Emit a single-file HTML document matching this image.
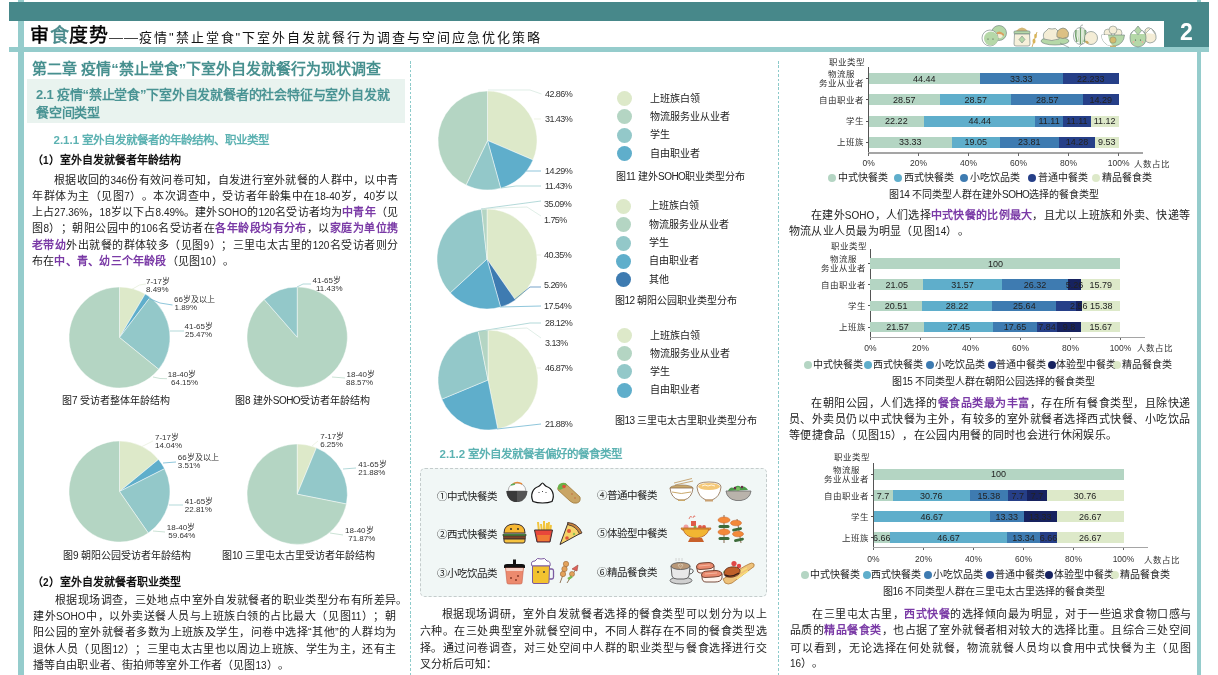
<!DOCTYPE html>
<html lang="zh-CN"><head><meta charset="utf-8">
<style>
html,body{margin:0;padding:0;}
body{will-change:transform;width:1218px;height:675px;position:relative;overflow:hidden;background:#fff;font-family:"Liberation Sans",sans-serif;text-spacing-trim:space-all;}
.t{position:absolute;}
.s{position:absolute;overflow:visible;}
.b{position:absolute;}
b.hl{color:#7a3aa6;font-weight:bold;}
.n{font-size:0.91em;}
.n2{letter-spacing:-0.55px;}
</style></head><body>
<div class="b" style="left:18px;top:0;width:5.5px;height:675px;background:#95cccc"></div>
<div class="b" style="left:1196.5px;top:0;width:4.5px;height:675px;background:#95cccc"></div>
<div class="b" style="left:9px;top:2px;width:1200px;height:19px;background:#47888a"></div>
<div class="b" style="left:1164px;top:2px;width:45px;height:45px;background:#47888a"></div>
<div class="b" style="left:9px;top:47px;width:1200px;height:4.5px;background:#95cccc"></div>
<div class="t" style="left:1164px;top:21px;width:45px;text-align:center;font-size:23px;line-height:22px;font-weight:bold;color:#fff">2</div>
<div class="t" style="left:30px;top:23px;font-size:19px;line-height:26px;white-space:nowrap;color:#000;letter-spacing:0.6px;-webkit-text-stroke:0.45px">审<span style="color:#47888a">食</span>度势</div>
<div class="b" style="left:108.5px;top:38px;width:14px;height:1.3px;background:#444"></div><div class="b" style="left:123.5px;top:38px;width:14px;height:1.3px;background:#444"></div>
<div class="t" style="left:139px;top:26px;font-size:13px;line-height:24px;white-space:nowrap;color:#111;letter-spacing:2px">疫情"禁止堂食"下室外自发就餐行为调查与空间应急优化策略</div>
<div class="b" style="left:410px;top:61px;width:1px;height:614px;background:repeating-linear-gradient(to bottom,#8ccaca 0 2.6px,transparent 2.6px 4.4px)"></div>
<div class="b" style="left:778px;top:61px;width:1px;height:614px;background:repeating-linear-gradient(to bottom,#8ccaca 0 2.6px,transparent 2.6px 4.4px)"></div>
<div class="t" style="left:32px;top:58.50px;font-size:15px;line-height:20px;color:#47908f;font-weight:bold;white-space:nowrap;">第二章 疫情“禁止堂食”下室外自发就餐行为现状调查</div>
<div class="b" style="left:27px;top:79px;width:378px;height:43.5px;background:#e9f3ef"></div>
<div class="t" style="left:36px;top:85.50px;font-size:13px;line-height:18px;color:#4a9494;font-weight:bold;white-space:nowrap;letter-spacing:-0.2px;">2.1 疫情“禁止堂食”下室外自发就餐者的社会特征与室外自发就</div>
<div class="t" style="left:36px;top:103.50px;font-size:13px;line-height:18px;color:#4a9494;font-weight:bold;white-space:nowrap;letter-spacing:-0.2px;">餐空间类型</div>
<div class="t" style="left:53.5px;top:132.50px;font-size:11.5px;line-height:14px;color:#5cb2b2;font-weight:bold;white-space:nowrap;">2.1.1 室外自发就餐者的年龄结构、职业类型</div>
<div class="t" style="left:32px;top:152.50px;font-size:11px;line-height:14px;color:#111;font-weight:bold;white-space:nowrap;">（<span class="n">1</span>）室外自发就餐者年龄结构</div>
<div class="t" style="left:54px;top:172.45px;font-size:11px;line-height:16.5px;color:#222;width:344px;text-align:justify;text-align-last:justify;">根据收回的<span class="n">346</span>份有效问卷可知，自发进行室外就餐的人群中，以中青</div>
<div class="t" style="left:32px;top:187.75px;font-size:11px;line-height:16.5px;color:#222;width:366px;text-align:justify;text-align-last:justify;">年群体为主（见图<span class="n">7</span>）。本次调查中，受访者年龄集中在<span class="n">18-40</span>岁，<span class="n">40</span>岁以</div>
<div class="t" style="left:32px;top:203.65px;font-size:11px;line-height:16.5px;color:#222;width:366px;text-align:justify;text-align-last:justify;">上占<span class="n">27.36%</span>，<span class="n">18</span>岁以下占<span class="n">8.49%</span>。建外<span class="n">SOHO</span>的<span class="n">120</span>名受访者均为<b class="hl">中青年</b>（见</div>
<div class="t" style="left:32px;top:220.35px;font-size:11px;line-height:16.5px;color:#222;width:366px;text-align:justify;text-align-last:justify;">图<span class="n">8</span>）；朝阳公园中的<span class="n">106</span>名受访者在<b class="hl">各年龄段均有分布</b>，以<b class="hl">家庭为单位携</b></div>
<div class="t" style="left:32px;top:236.55px;font-size:11px;line-height:16.5px;color:#222;width:366px;text-align:justify;text-align-last:justify;"><b class="hl">老带幼</b>外出就餐的群体较多（见图<span class="n">9</span>）；三里屯太古里的<span class="n">120</span>名受访者则分</div>
<div class="t" style="left:32px;top:252.75px;font-size:11px;line-height:16.5px;color:#222;white-space:nowrap;letter-spacing:0.22px;">布在<b class="hl">中、青、幼三个年龄段</b>（见图<span class="n">10</span>）。</div>
<svg class="s" style="left:67.0px;top:285.3px" width="105.0" height="105.0" viewBox="67.0 285.3 105.0 105.0"><path d="M119.5,337.8 L119.50,287.30 A50.5,50.5 0 0 1 145.18,294.32 Z" fill="#dde9c9" stroke="#fff" stroke-width="0.45" stroke-linejoin="round"/><path d="M119.5,337.8 L145.18,294.32 A50.5,50.5 0 0 1 150.15,297.66 Z" fill="#5faecb" stroke="#fff" stroke-width="0.45" stroke-linejoin="round"/><path d="M119.5,337.8 L150.15,297.66 A50.5,50.5 0 0 1 158.71,369.62 Z" fill="#93c8c9" stroke="#fff" stroke-width="0.45" stroke-linejoin="round"/><path d="M119.5,337.8 L158.71,369.62 A50.5,50.5 0 1 1 119.50,287.30 Z" fill="#b4d5c3" stroke="#fff" stroke-width="0.45" stroke-linejoin="round"/></svg>
<div class="t" style="left:146px;top:277.80px;font-size:8px;line-height:8px;color:#333;white-space:nowrap;">7-17岁</div>
<div class="t" style="left:146px;top:285.50px;font-size:8px;line-height:8px;color:#333;white-space:nowrap;">8.49%</div>
<div class="t" style="left:174px;top:295.50px;font-size:8px;line-height:8px;color:#333;white-space:nowrap;">66岁及以上</div>
<div class="t" style="left:174.5px;top:303.50px;font-size:8px;line-height:8px;color:#333;white-space:nowrap;">1.89%</div>
<div class="t" style="left:184.5px;top:323.30px;font-size:8px;line-height:8px;color:#333;white-space:nowrap;">41-65岁</div>
<div class="t" style="left:185px;top:331.30px;font-size:8px;line-height:8px;color:#333;white-space:nowrap;">25.47%</div>
<div class="t" style="left:167.8px;top:371.30px;font-size:8px;line-height:8px;color:#333;white-space:nowrap;">18-40岁</div>
<div class="t" style="left:171px;top:378.50px;font-size:8px;line-height:8px;color:#333;white-space:nowrap;">64.15%</div>
<svg class="s" style="left:129.5px;top:282px" width="20.0" height="11.300000000000011" viewBox="129.5 282 20.0 11.300000000000011"><polyline points="131.5,289.3 139,285 145.5,284" fill="none" stroke="#e3ecd6" stroke-width="0.7"/></svg>
<svg class="s" style="left:146px;top:295.5px" width="30.5" height="13.0" viewBox="146 295.5 30.5 13.0"><polyline points="148,297.5 160,302.5 172.5,304.5" fill="none" stroke="#5faecb" stroke-width="0.7"/></svg>
<svg class="s" style="left:168px;top:329.3px" width="20" height="6.0" viewBox="168 329.3 20 6.0"><polyline points="170,331.3 184,331.3" fill="none" stroke="#93c8c9" stroke-width="0.7"/></svg>
<svg class="s" style="left:151px;top:374.5px" width="20" height="7.699999999999989" viewBox="151 374.5 20 7.699999999999989"><polyline points="153,376.5 160,378 167,378.2" fill="none" stroke="#b4d5c3" stroke-width="0.7"/></svg>
<div class="t" style="left:62px;top:393.60px;font-size:10px;line-height:14px;color:#222;white-space:nowrap;">图<span class="n2">7</span> 受访者整体年龄结构</div>
<svg class="s" style="left:245.2px;top:285.2px" width="104.4" height="104.4" viewBox="245.2 285.2 104.4 104.4"><path d="M297.4,337.4 L297.40,287.20 A50.2,50.2 0 1 1 264.37,299.60 Z" fill="#b4d5c3" stroke="#fff" stroke-width="0.45" stroke-linejoin="round"/><path d="M297.4,337.4 L264.37,299.60 A50.2,50.2 0 0 1 297.40,287.20 Z" fill="#93c8c9" stroke="#fff" stroke-width="0.45" stroke-linejoin="round"/></svg>
<div class="t" style="left:312.5px;top:276.50px;font-size:8px;line-height:8px;color:#333;white-space:nowrap;">41-65岁</div>
<div class="t" style="left:316px;top:285.00px;font-size:8px;line-height:8px;color:#333;white-space:nowrap;">11.43%</div>
<div class="t" style="left:346.5px;top:371.00px;font-size:8px;line-height:8px;color:#333;white-space:nowrap;">18-40岁</div>
<div class="t" style="left:346px;top:379.30px;font-size:8px;line-height:8px;color:#333;white-space:nowrap;">88.57%</div>
<svg class="s" style="left:295px;top:282px" width="20" height="9" viewBox="295 282 20 9"><polyline points="297,287 303,284 311,284" fill="none" stroke="#93c8c9" stroke-width="0.7"/></svg>
<svg class="s" style="left:330px;top:375px" width="19" height="7" viewBox="330 375 19 7"><polyline points="332,377 345,378" fill="none" stroke="#b4d5c3" stroke-width="0.7"/></svg>
<div class="t" style="left:235px;top:393.60px;font-size:10px;line-height:14px;color:#222;white-space:nowrap;">图<span class="n2">8</span> 建外<span class="n2">SOHO</span>受访者年龄结构</div>
<svg class="s" style="left:67.0px;top:439.0px" width="105.0" height="105.0" viewBox="67.0 439.0 105.0 105.0"><path d="M119.5,491.5 L119.50,441.00 A50.5,50.5 0 0 1 158.49,459.41 Z" fill="#dde9c9" stroke="#fff" stroke-width="0.45" stroke-linejoin="round"/><path d="M119.5,491.5 L158.49,459.41 A50.5,50.5 0 0 1 164.57,468.71 Z" fill="#5faecb" stroke="#fff" stroke-width="0.45" stroke-linejoin="round"/><path d="M119.5,491.5 L164.57,468.71 A50.5,50.5 0 0 1 148.25,533.02 Z" fill="#93c8c9" stroke="#fff" stroke-width="0.45" stroke-linejoin="round"/><path d="M119.5,491.5 L148.25,533.02 A50.5,50.5 0 1 1 119.50,441.00 Z" fill="#b4d5c3" stroke="#fff" stroke-width="0.45" stroke-linejoin="round"/></svg>
<div class="t" style="left:155px;top:434.00px;font-size:8px;line-height:8px;color:#333;white-space:nowrap;">7-17岁</div>
<div class="t" style="left:155px;top:442.00px;font-size:8px;line-height:8px;color:#333;white-space:nowrap;">14.04%</div>
<div class="t" style="left:177.8px;top:454.30px;font-size:8px;line-height:8px;color:#333;white-space:nowrap;">66岁及以上</div>
<div class="t" style="left:177.8px;top:462.00px;font-size:8px;line-height:8px;color:#333;white-space:nowrap;">3.51%</div>
<div class="t" style="left:184.8px;top:497.80px;font-size:8px;line-height:8px;color:#333;white-space:nowrap;">41-65岁</div>
<div class="t" style="left:184.8px;top:505.80px;font-size:8px;line-height:8px;color:#333;white-space:nowrap;">22.81%</div>
<div class="t" style="left:166.8px;top:523.80px;font-size:8px;line-height:8px;color:#333;white-space:nowrap;">18-40岁</div>
<div class="t" style="left:168.3px;top:532.00px;font-size:8px;line-height:8px;color:#333;white-space:nowrap;">59.64%</div>
<svg class="s" style="left:139px;top:439px" width="18" height="12" viewBox="139 439 18 12"><polyline points="141,447 153,441" fill="none" stroke="#e6eedb" stroke-width="0.7"/></svg>
<svg class="s" style="left:161px;top:460px" width="19" height="7" viewBox="161 460 19 7"><polyline points="163,463 176,462" fill="none" stroke="#5faecb" stroke-width="0.7"/></svg>
<svg class="s" style="left:167px;top:503px" width="20" height="6" viewBox="167 503 20 6"><polyline points="169,505 183,505" fill="none" stroke="#93c8c9" stroke-width="0.7"/></svg>
<svg class="s" style="left:151px;top:529px" width="18" height="7" viewBox="151 529 18 7"><polyline points="153,531 165,532" fill="none" stroke="#b4d5c3" stroke-width="0.7"/></svg>
<div class="t" style="left:63px;top:548.60px;font-size:10px;line-height:14px;color:#222;white-space:nowrap;">图<span class="n2">9</span> 朝阳公园受访者年龄结构</div>
<svg class="s" style="left:245.2px;top:442.3px" width="104.4" height="104.4" viewBox="245.2 442.3 104.4 104.4"><path d="M297.4,494.5 L297.40,444.30 A50.2,50.2 0 0 1 316.61,448.12 Z" fill="#dde9c9" stroke="#fff" stroke-width="0.45" stroke-linejoin="round"/><path d="M297.4,494.5 L316.61,448.12 A50.2,50.2 0 0 1 346.63,504.31 Z" fill="#93c8c9" stroke="#fff" stroke-width="0.45" stroke-linejoin="round"/><path d="M297.4,494.5 L346.63,504.31 A50.2,50.2 0 1 1 297.40,444.30 Z" fill="#b4d5c3" stroke="#fff" stroke-width="0.45" stroke-linejoin="round"/></svg>
<div class="t" style="left:320.2px;top:433.00px;font-size:8px;line-height:8px;color:#333;white-space:nowrap;">7-17岁</div>
<div class="t" style="left:320.2px;top:441.00px;font-size:8px;line-height:8px;color:#333;white-space:nowrap;">6.25%</div>
<div class="t" style="left:358.2px;top:460.50px;font-size:8px;line-height:8px;color:#333;white-space:nowrap;">41-65岁</div>
<div class="t" style="left:358.2px;top:468.80px;font-size:8px;line-height:8px;color:#333;white-space:nowrap;">21.88%</div>
<div class="t" style="left:345.1px;top:527.30px;font-size:8px;line-height:8px;color:#333;white-space:nowrap;">18-40岁</div>
<div class="t" style="left:348.2px;top:535.00px;font-size:8px;line-height:8px;color:#333;white-space:nowrap;">71.87%</div>
<svg class="s" style="left:310px;top:439px" width="12" height="11" viewBox="310 439 12 11"><polyline points="312,446 318,441" fill="none" stroke="#e6eedb" stroke-width="0.7"/></svg>
<svg class="s" style="left:341px;top:466px" width="19" height="7" viewBox="341 466 19 7"><polyline points="343,469 356,468" fill="none" stroke="#93c8c9" stroke-width="0.7"/></svg>
<svg class="s" style="left:328px;top:531px" width="19" height="8" viewBox="328 531 19 8"><polyline points="330,533 343,535" fill="none" stroke="#b4d5c3" stroke-width="0.7"/></svg>
<div class="t" style="left:222px;top:548.60px;font-size:10px;line-height:14px;color:#222;white-space:nowrap;">图<span class="n2">10</span> 三里屯太古里受访者年龄结构</div>
<div class="t" style="left:32px;top:574.50px;font-size:11px;line-height:14px;color:#111;font-weight:bold;white-space:nowrap;">（<span class="n">2</span>）室外自发就餐者职业类型</div>
<div class="t" style="left:396px;top:592.25px;font-size:11px;line-height:16.5px;color:#222;white-space:nowrap;">。</div>
<div class="t" style="left:55px;top:592.25px;font-size:11px;line-height:16.5px;color:#222;width:341px;text-align:justify;text-align-last:justify;">根据现场调查，三处地点中室外自发就餐者的职业类型分布有所差异</div>
<div class="t" style="left:33px;top:607.95px;font-size:11px;line-height:16.5px;color:#222;width:363px;text-align:justify;text-align-last:justify;">建外<span class="n">SOHO</span>中，以外卖送餐人员与上班族白领的占比最大（见图<span class="n">11</span>）；朝</div>
<div class="t" style="left:33px;top:623.75px;font-size:11px;line-height:16.5px;color:#222;width:363px;text-align:justify;text-align-last:justify;">阳公园的室外就餐者多数为上班族及学生，问卷中选择“其他”的人群均为</div>
<div class="t" style="left:33px;top:640.55px;font-size:11px;line-height:16.5px;color:#222;width:363px;text-align:justify;text-align-last:justify;">退休人员（见图<span class="n">12</span>）；三里屯太古里也以周边上班族、学生为主，还有主</div>
<div class="t" style="left:33px;top:656.75px;font-size:11px;line-height:16.5px;color:#222;white-space:nowrap;letter-spacing:0.12px;">播等自由职业者、街拍师等室外工作者（见图<span class="n">13</span>）。</div>
<svg class="s" style="left:436.0px;top:88.5px" width="103.0" height="103.0" viewBox="436.0 88.5 103.0 103.0"><path d="M487.5,140 L487.50,90.50 A49.5,49.5 0 0 1 533.02,159.45 Z" fill="#dde9c9" stroke="#fff" stroke-width="0.45" stroke-linejoin="round"/><path d="M487.5,140 L533.02,159.45 A49.5,49.5 0 0 1 500.67,187.72 Z" fill="#5faecb" stroke="#fff" stroke-width="0.45" stroke-linejoin="round"/><path d="M487.5,140 L500.67,187.72 A49.5,49.5 0 0 1 466.02,184.60 Z" fill="#93c8c9" stroke="#fff" stroke-width="0.45" stroke-linejoin="round"/><path d="M487.5,140 L466.02,184.60 A49.5,49.5 0 0 1 487.50,90.50 Z" fill="#b4d5c3" stroke="#fff" stroke-width="0.45" stroke-linejoin="round"/></svg>
<div class="t" style="left:545px;top:89.30px;font-size:9px;line-height:10px;color:#333;white-space:nowrap;letter-spacing:-0.55px;">42.86%</div>
<div class="t" style="left:545px;top:114.00px;font-size:9px;line-height:10px;color:#333;white-space:nowrap;letter-spacing:-0.55px;">31.43%</div>
<div class="t" style="left:545px;top:165.70px;font-size:9px;line-height:10px;color:#333;white-space:nowrap;letter-spacing:-0.55px;">14.29%</div>
<div class="t" style="left:545px;top:181.10px;font-size:9px;line-height:10px;color:#333;white-space:nowrap;letter-spacing:-0.55px;">11.43%</div>
<svg class="s" style="left:485.5px;top:88.3px" width="59.5" height="10.0" viewBox="485.5 88.3 59.5 10.0"><polyline points="487.5,90.3 529.5,90.3 541,94.3" fill="none" stroke="#d3e6dc" stroke-width="0.7"/></svg>
<svg class="s" style="left:532px;top:117px" width="13" height="6" viewBox="532 117 13 6"><polyline points="534,119 541,119" fill="none" stroke="#e6eedb" stroke-width="0.7"/></svg>
<svg class="s" style="left:524px;top:168.7px" width="21" height="6.0" viewBox="524 168.7 21 6.0"><polyline points="526,170.7 541,170.7" fill="none" stroke="#5faecb" stroke-width="0.7"/></svg>
<svg class="s" style="left:499px;top:184px" width="46" height="8" viewBox="499 184 46 8"><polyline points="501,188 516,186 541,186" fill="none" stroke="#93c8c9" stroke-width="0.7"/></svg>
<div class="b" style="left:617.2px;top:91.1px;width:15.0px;height:15.0px;border-radius:50%;background:#dde9c9"></div>
<div class="t" style="left:650.2px;top:91.60px;font-size:10px;line-height:14px;color:#222;white-space:nowrap;">上班族白领</div>
<div class="b" style="left:617.2px;top:109.4px;width:15.0px;height:15.0px;border-radius:50%;background:#b4d5c3"></div>
<div class="t" style="left:650.2px;top:109.90px;font-size:10px;line-height:14px;color:#222;white-space:nowrap;">物流服务业从业者</div>
<div class="b" style="left:617.2px;top:127.69999999999999px;width:15.0px;height:15.0px;border-radius:50%;background:#93c8c9"></div>
<div class="t" style="left:650.2px;top:128.20px;font-size:10px;line-height:14px;color:#222;white-space:nowrap;">学生</div>
<div class="b" style="left:617.2px;top:146.0px;width:15.0px;height:15.0px;border-radius:50%;background:#5faecb"></div>
<div class="t" style="left:650.2px;top:146.50px;font-size:10px;line-height:14px;color:#222;white-space:nowrap;">自由职业者</div>
<div class="t" style="left:616px;top:170.30px;font-size:10px;line-height:14px;color:#222;white-space:nowrap;">图<span class="n2">11</span> 建外<span class="n2">SOHO</span>职业类型分布</div>
<svg class="s" style="left:434.5px;top:206.7px" width="104" height="104" viewBox="434.5 206.7 104 104"><path d="M486.5,258.7 L486.50,208.70 A50,50 0 0 1 514.98,299.79 Z" fill="#dde9c9" stroke="#fff" stroke-width="0.45" stroke-linejoin="round"/><path d="M486.5,258.7 L514.98,299.79 A50,50 0 0 1 500.10,306.81 Z" fill="#3e7bb1" stroke="#fff" stroke-width="0.45" stroke-linejoin="round"/><path d="M486.5,258.7 L500.10,306.81 A50,50 0 0 1 449.72,292.57 Z" fill="#5faecb" stroke="#fff" stroke-width="0.45" stroke-linejoin="round"/><path d="M486.5,258.7 L449.72,292.57 A50,50 0 0 1 481.01,209.00 Z" fill="#93c8c9" stroke="#fff" stroke-width="0.45" stroke-linejoin="round"/><path d="M486.5,258.7 L481.01,209.00 A50,50 0 0 1 486.50,208.70 Z" fill="#b4d5c3" stroke="#fff" stroke-width="0.45" stroke-linejoin="round"/></svg>
<div class="t" style="left:544px;top:199.00px;font-size:9px;line-height:10px;color:#333;white-space:nowrap;letter-spacing:-0.55px;">35.09%</div>
<div class="t" style="left:544px;top:215.30px;font-size:9px;line-height:10px;color:#333;white-space:nowrap;letter-spacing:-0.55px;">1.75%</div>
<div class="t" style="left:544px;top:249.90px;font-size:9px;line-height:10px;color:#333;white-space:nowrap;letter-spacing:-0.55px;">40.35%</div>
<div class="t" style="left:544px;top:279.50px;font-size:9px;line-height:10px;color:#333;white-space:nowrap;letter-spacing:-0.55px;">5.26%</div>
<div class="t" style="left:544px;top:300.50px;font-size:9px;line-height:10px;color:#333;white-space:nowrap;letter-spacing:-0.55px;">17.54%</div>
<svg class="s" style="left:479px;top:199px" width="66" height="14" viewBox="479 199 66 14"><polyline points="481,209 541,201" fill="none" stroke="#93c8c9" stroke-width="0.7"/></svg>
<svg class="s" style="left:481px;top:205px" width="64" height="15" viewBox="481 205 64 15"><polyline points="483,208.6 527,207 541,216" fill="none" stroke="#d3e6dc" stroke-width="0.7"/></svg>
<svg class="s" style="left:534px;top:253px" width="11" height="6" viewBox="534 253 11 6"><polyline points="536,255 541,255" fill="none" stroke="#e6eedb" stroke-width="0.7"/></svg>
<svg class="s" style="left:512px;top:285px" width="33" height="19" viewBox="512 285 33 19"><polyline points="514,300 530,287 541,287" fill="none" stroke="#3e7bb1" stroke-width="0.7"/></svg>
<svg class="s" style="left:498px;top:304px" width="47" height="7" viewBox="498 304 47 7"><polyline points="500,307 541,306" fill="none" stroke="#5faecb" stroke-width="0.7"/></svg>
<div class="b" style="left:616.0px;top:198.9px;width:15.0px;height:15.0px;border-radius:50%;background:#dde9c9"></div>
<div class="t" style="left:649.0px;top:199.40px;font-size:10px;line-height:14px;color:#222;white-space:nowrap;">上班族白领</div>
<div class="b" style="left:616.0px;top:217.2px;width:15.0px;height:15.0px;border-radius:50%;background:#b4d5c3"></div>
<div class="t" style="left:649.0px;top:217.70px;font-size:10px;line-height:14px;color:#222;white-space:nowrap;">物流服务业从业者</div>
<div class="b" style="left:616.0px;top:235.5px;width:15.0px;height:15.0px;border-radius:50%;background:#93c8c9"></div>
<div class="t" style="left:649.0px;top:236.00px;font-size:10px;line-height:14px;color:#222;white-space:nowrap;">学生</div>
<div class="b" style="left:616.0px;top:253.8px;width:15.0px;height:15.0px;border-radius:50%;background:#5faecb"></div>
<div class="t" style="left:649.0px;top:254.30px;font-size:10px;line-height:14px;color:#222;white-space:nowrap;">自由职业者</div>
<div class="b" style="left:616.0px;top:272.1px;width:15.0px;height:15.0px;border-radius:50%;background:#3e7bb1"></div>
<div class="t" style="left:649.0px;top:272.60px;font-size:10px;line-height:14px;color:#222;white-space:nowrap;">其他</div>
<div class="t" style="left:614.5px;top:294.40px;font-size:10px;line-height:14px;color:#222;white-space:nowrap;">图<span class="n2">12</span> 朝阳公园职业类型分布</div>
<svg class="s" style="left:436px;top:328px" width="104" height="104" viewBox="436 328 104 104"><path d="M488,380 L488.00,330.00 A50,50 0 0 1 497.77,429.04 Z" fill="#dde9c9" stroke="#fff" stroke-width="0.45" stroke-linejoin="round"/><path d="M488,380 L497.77,429.04 A50,50 0 0 1 441.81,399.13 Z" fill="#5faecb" stroke="#fff" stroke-width="0.45" stroke-linejoin="round"/><path d="M488,380 L441.81,399.13 A50,50 0 0 1 478.23,330.96 Z" fill="#93c8c9" stroke="#fff" stroke-width="0.45" stroke-linejoin="round"/><path d="M488,380 L478.23,330.96 A50,50 0 0 1 488.00,330.00 Z" fill="#b4d5c3" stroke="#fff" stroke-width="0.45" stroke-linejoin="round"/></svg>
<div class="t" style="left:545px;top:317.50px;font-size:9px;line-height:10px;color:#333;white-space:nowrap;letter-spacing:-0.55px;">28.12%</div>
<div class="t" style="left:545px;top:337.80px;font-size:9px;line-height:10px;color:#333;white-space:nowrap;letter-spacing:-0.55px;">3.13%</div>
<div class="t" style="left:545px;top:362.70px;font-size:9px;line-height:10px;color:#333;white-space:nowrap;letter-spacing:-0.55px;">46.87%</div>
<div class="t" style="left:545px;top:419.00px;font-size:9px;line-height:10px;color:#333;white-space:nowrap;letter-spacing:-0.55px;">21.88%</div>
<svg class="s" style="left:476px;top:320.5px" width="69" height="14.5" viewBox="476 320.5 69 14.5"><polyline points="478,331 530,322.5 541,322.5" fill="none" stroke="#93c8c9" stroke-width="0.7"/></svg>
<svg class="s" style="left:484px;top:326px" width="61" height="16" viewBox="484 326 61 16"><polyline points="486,330 527,328 541,338" fill="none" stroke="#d3e6dc" stroke-width="0.7"/></svg>
<svg class="s" style="left:535px;top:366px" width="10" height="6" viewBox="535 366 10 6"><polyline points="537,368 541,368" fill="none" stroke="#e6eedb" stroke-width="0.7"/></svg>
<svg class="s" style="left:495px;top:422px" width="50" height="11" viewBox="495 422 50 11"><polyline points="497,429 541,424" fill="none" stroke="#5faecb" stroke-width="0.7"/></svg>
<div class="b" style="left:617.0px;top:328.0px;width:15.0px;height:15.0px;border-radius:50%;background:#dde9c9"></div>
<div class="t" style="left:650.0px;top:328.50px;font-size:10px;line-height:14px;color:#222;white-space:nowrap;">上班族白领</div>
<div class="b" style="left:617.0px;top:346.2px;width:15.0px;height:15.0px;border-radius:50%;background:#b4d5c3"></div>
<div class="t" style="left:650.0px;top:346.70px;font-size:10px;line-height:14px;color:#222;white-space:nowrap;">物流服务业从业者</div>
<div class="b" style="left:617.0px;top:364.4px;width:15.0px;height:15.0px;border-radius:50%;background:#93c8c9"></div>
<div class="t" style="left:650.0px;top:364.90px;font-size:10px;line-height:14px;color:#222;white-space:nowrap;">学生</div>
<div class="b" style="left:617.0px;top:382.6px;width:15.0px;height:15.0px;border-radius:50%;background:#5faecb"></div>
<div class="t" style="left:650.0px;top:383.10px;font-size:10px;line-height:14px;color:#222;white-space:nowrap;">自由职业者</div>
<div class="t" style="left:614.5px;top:413.70px;font-size:10px;line-height:14px;color:#222;white-space:nowrap;">图<span class="n2">13</span> 三里屯太古里职业类型分布</div>
<div class="t" style="left:439.5px;top:447.30px;font-size:11.5px;line-height:14px;color:#5cb2b2;font-weight:bold;white-space:nowrap;">2.1.2 室外自发就餐者偏好的餐食类型</div>
<div class="b" style="left:420px;top:467.5px;width:345px;height:127.5px;border:1px dashed #c4cccc;border-radius:5px;background:#f1f7f6"></div>
<div class="t" style="left:436.5px;top:488.50px;font-size:10.5px;line-height:14px;color:#222;white-space:nowrap;">①中式快餐类</div>
<div class="t" style="left:436.5px;top:527.00px;font-size:10.5px;line-height:14px;color:#222;white-space:nowrap;">②西式快餐类</div>
<div class="t" style="left:436.5px;top:565.70px;font-size:10.5px;line-height:14px;color:#222;white-space:nowrap;">③小吃饮品类</div>
<div class="t" style="left:597px;top:487.50px;font-size:10.5px;line-height:14px;color:#222;white-space:nowrap;">④普通中餐类</div>
<div class="t" style="left:597px;top:526.00px;font-size:10.5px;line-height:14px;color:#222;white-space:nowrap;">⑤体验型中餐类</div>
<div class="t" style="left:597px;top:564.70px;font-size:10.5px;line-height:14px;color:#222;white-space:nowrap;">⑥精品餐食类</div>
<div class="t" style="left:441.5px;top:606.15px;font-size:11px;line-height:16.5px;color:#222;width:325px;text-align:justify;text-align-last:justify;">根据现场调研，室外自发就餐者选择的餐食类型可以划分为以上</div>
<div class="t" style="left:419.5px;top:622.75px;font-size:11px;line-height:16.5px;color:#222;width:347px;text-align:justify;text-align-last:justify;">六种。在三处典型室外就餐空间中，不同人群存在不同的餐食类型选</div>
<div class="t" style="left:419.5px;top:639.55px;font-size:11px;line-height:16.5px;color:#222;width:347px;text-align:justify;text-align-last:justify;">择。通过问卷调查，对三处空间中人群的职业类型与餐食选择进行交</div>
<div class="t" style="left:419.5px;top:656.05px;font-size:11px;line-height:16.5px;color:#222;white-space:nowrap;letter-spacing:0px;">叉分析后可知：</div>
<div class="b" style="left:868.1px;top:66.8px;width:1px;height:86.2px;background:#555"></div>
<div class="b" style="left:868.1px;top:152.25px;width:275px;height:1.5px;background:#a5a5a5"></div>
<div class="t" style="left:829.1px;top:56.90px;font-size:8.5px;line-height:10px;color:#333;white-space:nowrap;">职业类型</div>
<div class="b" style="left:868.1px;top:153px;width:1px;height:2.5px;background:#666"></div>
<div class="t" style="left:848.6px;top:157.8px;width:40px;text-align:center;font-size:8.5px;line-height:10px;color:#333">0%</div>
<div class="b" style="left:918.1px;top:153px;width:1px;height:2.5px;background:#666"></div>
<div class="t" style="left:898.6px;top:157.8px;width:40px;text-align:center;font-size:8.5px;line-height:10px;color:#333">20%</div>
<div class="b" style="left:968.1px;top:153px;width:1px;height:2.5px;background:#666"></div>
<div class="t" style="left:948.6px;top:157.8px;width:40px;text-align:center;font-size:8.5px;line-height:10px;color:#333">40%</div>
<div class="b" style="left:1018.1px;top:153px;width:1px;height:2.5px;background:#666"></div>
<div class="t" style="left:998.6px;top:157.8px;width:40px;text-align:center;font-size:8.5px;line-height:10px;color:#333">60%</div>
<div class="b" style="left:1068.1px;top:153px;width:1px;height:2.5px;background:#666"></div>
<div class="t" style="left:1048.6px;top:157.8px;width:40px;text-align:center;font-size:8.5px;line-height:10px;color:#333">80%</div>
<div class="b" style="left:1118.1px;top:153px;width:1px;height:2.5px;background:#666"></div>
<div class="t" style="left:1098.6px;top:157.8px;width:40px;text-align:center;font-size:8.5px;line-height:10px;color:#333">100%</div>
<div class="t" style="left:1133.7px;top:159px;font-size:8.5px;line-height:10px;color:#333;white-space:nowrap">人数占比</div>
<div class="b" style="left:865.6px;top:78.0px;width:3px;height:1px;background:#555"></div>
<div class="t" style="right:353.9px;top:70.0px;font-size:8.5px;line-height:9.3px;color:#333;white-space:nowrap;text-align:center">物流服<br>务业从业者</div>
<div class="b" style="left:869px;top:73.00px;width:111px;height:11px;background:#b4d5c3"></div>
<div class="b" style="left:980px;top:73.00px;width:83px;height:11px;background:#3e7bb1"></div>
<div class="b" style="left:1063px;top:73.00px;width:56px;height:11px;background:#263f88"></div>
<div class="t" style="left:904.15px;top:73.50px;width:40px;text-align:center;font-size:9px;line-height:10px;color:#222">44.44</div>
<div class="t" style="left:1001.36px;top:73.50px;width:40px;text-align:center;font-size:9px;line-height:10px;color:#222">33.33</div>
<div class="t" style="left:1070.81px;top:73.50px;width:40px;text-align:center;font-size:9px;line-height:10px;color:#222">22.233</div>
<div class="b" style="left:865.6px;top:99.1px;width:3px;height:1px;background:#555"></div>
<div class="t" style="right:353.9px;top:94.6px;font-size:8.5px;line-height:10px;color:#333;white-space:nowrap">自由职业者</div>
<div class="b" style="left:869px;top:94.10px;width:71px;height:11px;background:#b4d5c3"></div>
<div class="b" style="left:940px;top:94.10px;width:71px;height:11px;background:#5faecb"></div>
<div class="b" style="left:1011px;top:94.10px;width:72px;height:11px;background:#3e7bb1"></div>
<div class="b" style="left:1083px;top:94.10px;width:36px;height:11px;background:#263f88"></div>
<div class="t" style="left:884.31px;top:94.60px;width:40px;text-align:center;font-size:9px;line-height:10px;color:#222">28.57</div>
<div class="t" style="left:955.74px;top:94.60px;width:40px;text-align:center;font-size:9px;line-height:10px;color:#222">28.57</div>
<div class="t" style="left:1027.16px;top:94.60px;width:40px;text-align:center;font-size:9px;line-height:10px;color:#222">28.57</div>
<div class="t" style="left:1080.74px;top:94.60px;width:40px;text-align:center;font-size:9px;line-height:10px;color:#222">14.29</div>
<div class="b" style="left:865.6px;top:120.5px;width:3px;height:1px;background:#555"></div>
<div class="t" style="right:353.9px;top:116.0px;font-size:8.5px;line-height:10px;color:#333;white-space:nowrap">学生</div>
<div class="b" style="left:869px;top:115.50px;width:55px;height:11px;background:#b4d5c3"></div>
<div class="b" style="left:924px;top:115.50px;width:111px;height:11px;background:#5faecb"></div>
<div class="b" style="left:1035px;top:115.50px;width:28px;height:11px;background:#3e7bb1"></div>
<div class="b" style="left:1063px;top:115.50px;width:28px;height:11px;background:#263f88"></div>
<div class="b" style="left:1091px;top:115.50px;width:28px;height:11px;background:#dde9c9"></div>
<div class="t" style="left:876.38px;top:116.00px;width:40px;text-align:center;font-size:9px;line-height:10px;color:#222">22.22</div>
<div class="t" style="left:959.70px;top:116.00px;width:40px;text-align:center;font-size:9px;line-height:10px;color:#222">44.44</div>
<div class="t" style="left:1029.14px;top:116.00px;width:40px;text-align:center;font-size:9px;line-height:10px;color:#222">11.11</div>
<div class="t" style="left:1056.91px;top:116.00px;width:40px;text-align:center;font-size:9px;line-height:10px;color:#222">11.11</div>
<div class="t" style="left:1084.70px;top:116.00px;width:40px;text-align:center;font-size:9px;line-height:10px;color:#222">11.12</div>
<div class="b" style="left:865.6px;top:141.8px;width:3px;height:1px;background:#555"></div>
<div class="t" style="right:353.9px;top:137.3px;font-size:8.5px;line-height:10px;color:#333;white-space:nowrap">上班族</div>
<div class="b" style="left:869px;top:136.80px;width:83px;height:11px;background:#b4d5c3"></div>
<div class="b" style="left:952px;top:136.80px;width:48px;height:11px;background:#5faecb"></div>
<div class="b" style="left:1000px;top:136.80px;width:59px;height:11px;background:#3e7bb1"></div>
<div class="b" style="left:1059px;top:136.80px;width:36px;height:11px;background:#263f88"></div>
<div class="b" style="left:1095px;top:136.80px;width:24px;height:11px;background:#dde9c9"></div>
<div class="t" style="left:890.26px;top:137.30px;width:40px;text-align:center;font-size:9px;line-height:10px;color:#222">33.33</div>
<div class="t" style="left:955.74px;top:137.30px;width:40px;text-align:center;font-size:9px;line-height:10px;color:#222">19.05</div>
<div class="t" style="left:1009.31px;top:137.30px;width:40px;text-align:center;font-size:9px;line-height:10px;color:#222">23.81</div>
<div class="t" style="left:1056.92px;top:137.30px;width:40px;text-align:center;font-size:9px;line-height:10px;color:#222">14.28</div>
<div class="t" style="left:1086.69px;top:137.30px;width:40px;text-align:center;font-size:9px;line-height:10px;color:#222">9.53</div>
<div class="b" style="left:828px;top:173.6px;width:8px;height:8px;border-radius:50%;background:#b4d5c3"></div>
<div class="t" style="left:838px;top:171.60px;font-size:10px;line-height:12px;color:#222;white-space:nowrap;">中式快餐类</div>
<div class="b" style="left:893.5px;top:173.6px;width:8px;height:8px;border-radius:50%;background:#5faecb"></div>
<div class="t" style="left:903.5px;top:171.60px;font-size:10px;line-height:12px;color:#222;white-space:nowrap;">西式快餐类</div>
<div class="b" style="left:959.5px;top:173.6px;width:8px;height:8px;border-radius:50%;background:#3e7bb1"></div>
<div class="t" style="left:969.5px;top:171.60px;font-size:10px;line-height:12px;color:#222;white-space:nowrap;">小吃饮品类</div>
<div class="b" style="left:1027.5px;top:173.6px;width:8px;height:8px;border-radius:50%;background:#263f88"></div>
<div class="t" style="left:1037.5px;top:171.60px;font-size:10px;line-height:12px;color:#222;white-space:nowrap;">普通中餐类</div>
<div class="b" style="left:1092px;top:173.6px;width:8px;height:8px;border-radius:50%;background:#dde9c9"></div>
<div class="t" style="left:1102px;top:171.60px;font-size:10px;line-height:12px;color:#222;white-space:nowrap;">精品餐食类</div>
<div class="t" style="left:844.3px;top:187.7px;width:300px;text-align:center;font-size:10px;line-height:14px;color:#222">图<span class="n2">14</span> 不同类型人群在建外<span class="n2">SOHO</span>选择的餐食类型</div>
<div class="t" style="left:811px;top:207.15px;font-size:11px;line-height:16.5px;color:#222;width:379px;text-align:justify;text-align-last:justify;">在建外<span class="n">SOHO</span>，人们选择<b class="hl">中式快餐的比例最大</b>，且尤以上班族和外卖、快递等</div>
<div class="t" style="left:789px;top:223.05px;font-size:11px;line-height:16.5px;color:#222;white-space:nowrap;letter-spacing:0.22px;">物流从业人员最为明显（见图<span class="n">14</span>）。</div>
<div class="b" style="left:870.0px;top:249.3px;width:1px;height:88.39999999999998px;background:#555"></div>
<div class="b" style="left:870.0px;top:336.95px;width:275px;height:1.5px;background:#a5a5a5"></div>
<div class="t" style="left:831.0px;top:240.80px;font-size:8.5px;line-height:10px;color:#333;white-space:nowrap;">职业类型</div>
<div class="b" style="left:870.0px;top:337.7px;width:1px;height:2.5px;background:#666"></div>
<div class="t" style="left:850.5px;top:342.5px;width:40px;text-align:center;font-size:8.5px;line-height:10px;color:#333">0%</div>
<div class="b" style="left:920.0px;top:337.7px;width:1px;height:2.5px;background:#666"></div>
<div class="t" style="left:900.5px;top:342.5px;width:40px;text-align:center;font-size:8.5px;line-height:10px;color:#333">20%</div>
<div class="b" style="left:970.0px;top:337.7px;width:1px;height:2.5px;background:#666"></div>
<div class="t" style="left:950.5px;top:342.5px;width:40px;text-align:center;font-size:8.5px;line-height:10px;color:#333">40%</div>
<div class="b" style="left:1020.0px;top:337.7px;width:1px;height:2.5px;background:#666"></div>
<div class="t" style="left:1000.5px;top:342.5px;width:40px;text-align:center;font-size:8.5px;line-height:10px;color:#333">60%</div>
<div class="b" style="left:1070.0px;top:337.7px;width:1px;height:2.5px;background:#666"></div>
<div class="t" style="left:1050.5px;top:342.5px;width:40px;text-align:center;font-size:8.5px;line-height:10px;color:#333">80%</div>
<div class="b" style="left:1120.0px;top:337.7px;width:1px;height:2.5px;background:#666"></div>
<div class="t" style="left:1100.5px;top:342.5px;width:40px;text-align:center;font-size:8.5px;line-height:10px;color:#333">100%</div>
<div class="t" style="left:1137px;top:342.5px;font-size:8.5px;line-height:10px;color:#333;white-space:nowrap">人数占比</div>
<div class="b" style="left:867.5px;top:263.1px;width:3px;height:1px;background:#555"></div>
<div class="t" style="right:352.0px;top:255.10000000000002px;font-size:8.5px;line-height:9.3px;color:#333;white-space:nowrap;text-align:center">物流服<br>务业从业者</div>
<div class="b" style="left:870px;top:258.45px;width:250px;height:10.3px;background:#b4d5c3"></div>
<div class="t" style="left:975.50px;top:258.60px;width:40px;text-align:center;font-size:9px;line-height:10px;color:#222">100</div>
<div class="b" style="left:867.5px;top:284.1px;width:3px;height:1px;background:#555"></div>
<div class="t" style="right:352.0px;top:279.6px;font-size:8.5px;line-height:10px;color:#333;white-space:nowrap">自由职业者</div>
<div class="b" style="left:870px;top:279.45px;width:53px;height:10.3px;background:#b4d5c3"></div>
<div class="b" style="left:923px;top:279.45px;width:79px;height:10.3px;background:#5faecb"></div>
<div class="b" style="left:1002px;top:279.45px;width:66px;height:10.3px;background:#3e7bb1"></div>
<div class="b" style="left:1068px;top:279.45px;width:13px;height:10.3px;background:#17225f"></div>
<div class="b" style="left:1081px;top:279.45px;width:39px;height:10.3px;background:#dde9c9"></div>
<div class="t" style="left:876.81px;top:279.60px;width:40px;text-align:center;font-size:9px;line-height:10px;color:#222">21.05</div>
<div class="t" style="left:942.59px;top:279.60px;width:40px;text-align:center;font-size:9px;line-height:10px;color:#222">31.57</div>
<div class="t" style="left:1014.95px;top:279.60px;width:40px;text-align:center;font-size:9px;line-height:10px;color:#222">26.32</div>
<div class="t" style="left:1054.42px;top:279.60px;width:40px;text-align:center;font-size:9px;line-height:10px;color:#222">5.26</div>
<div class="t" style="left:1080.74px;top:279.60px;width:40px;text-align:center;font-size:9px;line-height:10px;color:#222">15.79</div>
<div class="b" style="left:867.5px;top:305.4px;width:3px;height:1px;background:#555"></div>
<div class="t" style="right:352.0px;top:300.9px;font-size:8.5px;line-height:10px;color:#333;white-space:nowrap">学生</div>
<div class="b" style="left:870px;top:300.75px;width:52px;height:10.3px;background:#b4d5c3"></div>
<div class="b" style="left:922px;top:300.75px;width:70px;height:10.3px;background:#5faecb"></div>
<div class="b" style="left:992px;top:300.75px;width:64px;height:10.3px;background:#3e7bb1"></div>
<div class="b" style="left:1056px;top:300.75px;width:20px;height:10.3px;background:#263f88"></div>
<div class="b" style="left:1076px;top:300.75px;width:6px;height:10.3px;background:#17225f"></div>
<div class="b" style="left:1082px;top:300.75px;width:38px;height:10.3px;background:#dde9c9"></div>
<div class="t" style="left:876.14px;top:300.90px;width:40px;text-align:center;font-size:9px;line-height:10px;color:#222">20.51</div>
<div class="t" style="left:937.05px;top:300.90px;width:40px;text-align:center;font-size:9px;line-height:10px;color:#222">28.22</div>
<div class="t" style="left:1004.38px;top:300.90px;width:40px;text-align:center;font-size:9px;line-height:10px;color:#222">25.64</div>
<div class="t" style="left:1058.85px;top:300.90px;width:40px;text-align:center;font-size:9px;line-height:10px;color:#222">2.56</div>
<div class="t" style="left:1081.27px;top:300.90px;width:40px;text-align:center;font-size:9px;line-height:10px;color:#222">15.38</div>
<div class="b" style="left:867.5px;top:326.8px;width:3px;height:1px;background:#555"></div>
<div class="t" style="right:352.0px;top:322.3px;font-size:8.5px;line-height:10px;color:#333;white-space:nowrap">上班族</div>
<div class="b" style="left:870px;top:322.15px;width:54px;height:10.3px;background:#b4d5c3"></div>
<div class="b" style="left:924px;top:322.15px;width:69px;height:10.3px;background:#5faecb"></div>
<div class="b" style="left:993px;top:322.15px;width:44px;height:10.3px;background:#3e7bb1"></div>
<div class="b" style="left:1037px;top:322.15px;width:20px;height:10.3px;background:#263f88"></div>
<div class="b" style="left:1057px;top:322.15px;width:24px;height:10.3px;background:#17225f"></div>
<div class="b" style="left:1081px;top:322.15px;width:39px;height:10.3px;background:#dde9c9"></div>
<div class="t" style="left:877.46px;top:322.30px;width:40px;text-align:center;font-size:9px;line-height:10px;color:#222">21.57</div>
<div class="t" style="left:938.74px;top:322.30px;width:40px;text-align:center;font-size:9px;line-height:10px;color:#222">27.45</div>
<div class="t" style="left:995.11px;top:322.30px;width:40px;text-align:center;font-size:9px;line-height:10px;color:#222">17.65</div>
<div class="t" style="left:1026.97px;top:322.30px;width:40px;text-align:center;font-size:9px;line-height:10px;color:#222">7.84</div>
<div class="t" style="left:1049.02px;top:322.30px;width:40px;text-align:center;font-size:9px;line-height:10px;color:#222">9.8</div>
<div class="t" style="left:1080.86px;top:322.30px;width:40px;text-align:center;font-size:9px;line-height:10px;color:#222">15.67</div>
<div class="b" style="left:804.2px;top:360.6px;width:8px;height:8px;border-radius:50%;background:#b4d5c3"></div>
<div class="t" style="left:812.7px;top:358.60px;font-size:10px;line-height:12px;color:#222;white-space:nowrap;">中式快餐类</div>
<div class="b" style="left:864.2px;top:360.6px;width:8px;height:8px;border-radius:50%;background:#5faecb"></div>
<div class="t" style="left:872.7px;top:358.60px;font-size:10px;line-height:12px;color:#222;white-space:nowrap;">西式快餐类</div>
<div class="b" style="left:926px;top:360.6px;width:8px;height:8px;border-radius:50%;background:#3e7bb1"></div>
<div class="t" style="left:934.5px;top:358.60px;font-size:10px;line-height:12px;color:#222;white-space:nowrap;">小吃饮品类</div>
<div class="b" style="left:987.8px;top:360.6px;width:8px;height:8px;border-radius:50%;background:#263f88"></div>
<div class="t" style="left:996.3px;top:358.60px;font-size:10px;line-height:12px;color:#222;white-space:nowrap;">普通中餐类</div>
<div class="b" style="left:1047.8px;top:360.6px;width:8px;height:8px;border-radius:50%;background:#17225f"></div>
<div class="t" style="left:1056.3px;top:358.60px;font-size:10px;line-height:12px;color:#222;white-space:nowrap;">体验型中餐类</div>
<div class="b" style="left:1113px;top:360.6px;width:8px;height:8px;border-radius:50%;background:#dde9c9"></div>
<div class="t" style="left:1121.5px;top:358.60px;font-size:10px;line-height:12px;color:#222;white-space:nowrap;">精品餐食类</div>
<div class="t" style="left:843.6px;top:374.9px;width:300px;text-align:center;font-size:10px;line-height:14px;color:#222">图<span class="n2">15</span> 不同类型人群在朝阳公园选择的餐食类型</div>
<div class="t" style="left:811px;top:394.75px;font-size:11px;line-height:16.5px;color:#222;width:379px;text-align:justify;text-align-last:justify;">在朝阳公园，人们选择的<b class="hl">餐食品类最为丰富</b>，存在所有餐食类型，且除快递</div>
<div class="t" style="left:789px;top:411.25px;font-size:11px;line-height:16.5px;color:#222;width:401px;text-align:justify;text-align-last:justify;">员、外卖员仍以中式快餐为主外，有较多的室外就餐者选择西式快餐、小吃饮品</div>
<div class="t" style="left:789px;top:427.05px;font-size:11px;line-height:16.5px;color:#222;white-space:nowrap;letter-spacing:0.3px;">等便捷食品（见图<span class="n">15</span>），在公园内用餐的同时也会进行休闲娱乐。</div>
<div class="b" style="left:873.0px;top:463px;width:1px;height:84.70000000000005px;background:#555"></div>
<div class="b" style="left:873.0px;top:546.95px;width:275px;height:1.5px;background:#a5a5a5"></div>
<div class="t" style="left:834.0px;top:451.60px;font-size:8.5px;line-height:10px;color:#333;white-space:nowrap;">职业类型</div>
<div class="b" style="left:873.0px;top:547.7px;width:1px;height:2.5px;background:#666"></div>
<div class="t" style="left:853.5px;top:554.3px;width:40px;text-align:center;font-size:8.5px;line-height:10px;color:#333">0%</div>
<div class="b" style="left:923.0px;top:547.7px;width:1px;height:2.5px;background:#666"></div>
<div class="t" style="left:903.5px;top:554.3px;width:40px;text-align:center;font-size:8.5px;line-height:10px;color:#333">20%</div>
<div class="b" style="left:973.0px;top:547.7px;width:1px;height:2.5px;background:#666"></div>
<div class="t" style="left:953.5px;top:554.3px;width:40px;text-align:center;font-size:8.5px;line-height:10px;color:#333">40%</div>
<div class="b" style="left:1023.0px;top:547.7px;width:1px;height:2.5px;background:#666"></div>
<div class="t" style="left:1003.5px;top:554.3px;width:40px;text-align:center;font-size:8.5px;line-height:10px;color:#333">60%</div>
<div class="b" style="left:1073.0px;top:547.7px;width:1px;height:2.5px;background:#666"></div>
<div class="t" style="left:1053.5px;top:554.3px;width:40px;text-align:center;font-size:8.5px;line-height:10px;color:#333">80%</div>
<div class="b" style="left:1123.0px;top:547.7px;width:1px;height:2.5px;background:#666"></div>
<div class="t" style="left:1103.5px;top:554.3px;width:40px;text-align:center;font-size:8.5px;line-height:10px;color:#333">100%</div>
<div class="t" style="left:1143.6px;top:554.5px;font-size:8.5px;line-height:10px;color:#333;white-space:nowrap">人数占比</div>
<div class="b" style="left:870.5px;top:473.9px;width:3px;height:1px;background:#555"></div>
<div class="t" style="right:349.0px;top:465.9px;font-size:8.5px;line-height:9.3px;color:#333;white-space:nowrap;text-align:center">物流服<br>务业从业者</div>
<div class="b" style="left:874px;top:469.20px;width:250px;height:10.4px;background:#b4d5c3"></div>
<div class="t" style="left:978.50px;top:469.40px;width:40px;text-align:center;font-size:9px;line-height:10px;color:#222">100</div>
<div class="b" style="left:870.5px;top:495.0px;width:3px;height:1px;background:#555"></div>
<div class="t" style="right:349.0px;top:490.5px;font-size:8.5px;line-height:10px;color:#333;white-space:nowrap">自由职业者</div>
<div class="b" style="left:874px;top:490.30px;width:19px;height:10.4px;background:#b4d5c3"></div>
<div class="b" style="left:893px;top:490.30px;width:77px;height:10.4px;background:#5faecb"></div>
<div class="b" style="left:970px;top:490.30px;width:38px;height:10.4px;background:#3e7bb1"></div>
<div class="b" style="left:1008px;top:490.30px;width:19px;height:10.4px;background:#263f88"></div>
<div class="b" style="left:1027px;top:490.30px;width:20px;height:10.4px;background:#17225f"></div>
<div class="b" style="left:1047px;top:490.30px;width:77px;height:10.4px;background:#dde9c9"></div>
<div class="t" style="left:863.12px;top:490.50px;width:40px;text-align:center;font-size:9px;line-height:10px;color:#222">7.7</div>
<div class="t" style="left:911.20px;top:490.50px;width:40px;text-align:center;font-size:9px;line-height:10px;color:#222">30.76</div>
<div class="t" style="left:968.88px;top:490.50px;width:40px;text-align:center;font-size:9px;line-height:10px;color:#222">15.38</div>
<div class="t" style="left:997.73px;top:490.50px;width:40px;text-align:center;font-size:9px;line-height:10px;color:#222">7.7</div>
<div class="t" style="left:1016.97px;top:490.50px;width:40px;text-align:center;font-size:9px;line-height:10px;color:#222">7.7</div>
<div class="t" style="left:1065.05px;top:490.50px;width:40px;text-align:center;font-size:9px;line-height:10px;color:#222">30.76</div>
<div class="b" style="left:870.5px;top:516.1px;width:3px;height:1px;background:#555"></div>
<div class="t" style="right:349.0px;top:511.6px;font-size:8.5px;line-height:10px;color:#333;white-space:nowrap">学生</div>
<div class="b" style="left:874px;top:511.40px;width:116px;height:10.4px;background:#5faecb"></div>
<div class="b" style="left:990px;top:511.40px;width:34px;height:10.4px;background:#3e7bb1"></div>
<div class="b" style="left:1024px;top:511.40px;width:33px;height:10.4px;background:#17225f"></div>
<div class="b" style="left:1057px;top:511.40px;width:67px;height:10.4px;background:#dde9c9"></div>
<div class="t" style="left:911.84px;top:511.60px;width:40px;text-align:center;font-size:9px;line-height:10px;color:#222">46.67</div>
<div class="t" style="left:986.84px;top:511.60px;width:40px;text-align:center;font-size:9px;line-height:10px;color:#222">13.33</div>
<div class="t" style="left:1020.16px;top:511.60px;width:40px;text-align:center;font-size:9px;line-height:10px;color:#222">13.33</div>
<div class="t" style="left:1070.16px;top:511.60px;width:40px;text-align:center;font-size:9px;line-height:10px;color:#222">26.67</div>
<div class="b" style="left:870.5px;top:537.1px;width:3px;height:1px;background:#555"></div>
<div class="t" style="right:349.0px;top:532.6px;font-size:8.5px;line-height:10px;color:#333;white-space:nowrap">上班族</div>
<div class="b" style="left:874px;top:532.40px;width:16px;height:10.4px;background:#b4d5c3"></div>
<div class="b" style="left:890px;top:532.40px;width:117px;height:10.4px;background:#5faecb"></div>
<div class="b" style="left:1007px;top:532.40px;width:33px;height:10.4px;background:#3e7bb1"></div>
<div class="b" style="left:1040px;top:532.40px;width:17px;height:10.4px;background:#263f88"></div>
<div class="b" style="left:1057px;top:532.40px;width:67px;height:10.4px;background:#dde9c9"></div>
<div class="t" style="left:861.83px;top:532.60px;width:40px;text-align:center;font-size:9px;line-height:10px;color:#222">6.66</div>
<div class="t" style="left:928.49px;top:532.60px;width:40px;text-align:center;font-size:9px;line-height:10px;color:#222">46.67</div>
<div class="t" style="left:1003.50px;top:532.60px;width:40px;text-align:center;font-size:9px;line-height:10px;color:#222">13.34</div>
<div class="t" style="left:1028.50px;top:532.60px;width:40px;text-align:center;font-size:9px;line-height:10px;color:#222">6.66</div>
<div class="t" style="left:1070.16px;top:532.60px;width:40px;text-align:center;font-size:9px;line-height:10px;color:#222">26.67</div>
<div class="b" style="left:801.4px;top:571px;width:8px;height:8px;border-radius:50%;background:#b4d5c3"></div>
<div class="t" style="left:809.9px;top:569.00px;font-size:10px;line-height:12px;color:#222;white-space:nowrap;">中式快餐类</div>
<div class="b" style="left:862.5px;top:571px;width:8px;height:8px;border-radius:50%;background:#5faecb"></div>
<div class="t" style="left:871.0px;top:569.00px;font-size:10px;line-height:12px;color:#222;white-space:nowrap;">西式快餐类</div>
<div class="b" style="left:924.3px;top:571px;width:8px;height:8px;border-radius:50%;background:#3e7bb1"></div>
<div class="t" style="left:932.8px;top:569.00px;font-size:10px;line-height:12px;color:#222;white-space:nowrap;">小吃饮品类</div>
<div class="b" style="left:986px;top:571px;width:8px;height:8px;border-radius:50%;background:#263f88"></div>
<div class="t" style="left:994.5px;top:569.00px;font-size:10px;line-height:12px;color:#222;white-space:nowrap;">普通中餐类</div>
<div class="b" style="left:1045px;top:571px;width:8px;height:8px;border-radius:50%;background:#17225f"></div>
<div class="t" style="left:1053.5px;top:569.00px;font-size:10px;line-height:12px;color:#222;white-space:nowrap;">体验型中餐类</div>
<div class="b" style="left:1111.3px;top:571px;width:8px;height:8px;border-radius:50%;background:#dde9c9"></div>
<div class="t" style="left:1119.8px;top:569.00px;font-size:10px;line-height:12px;color:#222;white-space:nowrap;">精品餐食类</div>
<div class="t" style="left:844px;top:584.9px;width:300px;text-align:center;font-size:10px;line-height:14px;color:#222">图<span class="n2">16</span> 不同类型人群在三里屯太古里选择的餐食类型</div>
<div class="t" style="left:812px;top:605.85px;font-size:11px;line-height:16.5px;color:#222;width:379px;text-align:justify;text-align-last:justify;">在三里屯太古里，<b class="hl">西式快餐</b>的选择倾向最为明显，对于一些追求食物口感与</div>
<div class="t" style="left:790px;top:622.35px;font-size:11px;line-height:16.5px;color:#222;width:401px;text-align:justify;text-align-last:justify;">品质的<b class="hl">精品餐食类</b>，也占据了室外就餐者相对较大的选择比重。且综合三处空间</div>
<div class="t" style="left:790px;top:639.65px;font-size:11px;line-height:16.5px;color:#222;width:401px;text-align:justify;text-align-last:justify;">可以看到，无论选择在何处就餐，物流就餐人员均以食用中式快餐为主（见图</div>
<div class="t" style="left:790px;top:655.05px;font-size:11px;line-height:16.5px;color:#222;white-space:nowrap;letter-spacing:0px;"><span class="n">16</span>）。</div>
<svg class="s" style="left:505px;top:480px" width="24" height="24" viewBox="0 0 24 24"><path d="M3,11 Q4,3 12,3 Q20,3 21,11 Z" fill="#fbfbfb" stroke="#9a9a9a" stroke-width="0.8"/><path d="M8,4 Q12,1 17,4" stroke="#e58a3a" stroke-width="1.6" fill="none"/><path d="M6,5 L10,4" stroke="#5cae5c" stroke-width="1.4"/><path d="M1.5,11 L22.5,11 Q22,20 14,22 L10,22 Q2,20 1.5,11 Z" fill="#555"/><path d="M1.5,11 L12,11 L12,22 L10,22 Q2,20 1.5,11 Z" fill="#3a3a3a"/></svg>
<svg class="s" style="left:530px;top:481px" width="25" height="23" viewBox="0 0 25 23"><path d="M3,20.5 C0,14 2.5,7.5 8.5,5.5 C10.5,4.5 11.5,2 12.5,2 C13.5,2 14.5,4.5 16.5,5.5 C22.5,7.5 25,14 22,20.5 C17,22.5 8,22.5 3,20.5 Z" fill="#fff" stroke="#111" stroke-width="1.2"/><path d="M9,11 L9,12 M12.5,10 L12.5,11 M16,11 L16,12" stroke="#333" stroke-width="0.9"/></svg>
<svg class="s" style="left:556px;top:481px" width="26" height="24" viewBox="0 0 26 24"><path d="M3,5 Q6,1 10,3 L24,16 Q25,21 21,22 Q17,23 14,20 L2,9 Q1,7 3,5 Z" fill="#c9a565" stroke="#a07a3a" stroke-width="0.8"/><path d="M2,8 Q1,3 6,2 Q10,1 11,4 Q8,8 4,9 Z" fill="#6bb24a"/><circle cx="8" cy="5.5" r="1.8" fill="#e0503a"/><circle cx="16" cy="13" r="0.7" fill="#c0603a"/><circle cx="19" cy="17" r="0.7" fill="#c0603a"/></svg>
<svg class="s" style="left:502px;top:522px" width="25" height="22" viewBox="0 0 25 22"><path d="M2,11 Q2,2 12.5,2 Q23,2 23,11 Z" fill="#f6b732" stroke="#3b2f2f" stroke-width="1"/><path d="M1,12 L24,12 L24,14 L1,14 Z" fill="#4aa040" stroke="#3b2f2f" stroke-width="0.6"/><rect x="1.5" y="14" width="22" height="3" fill="#7b4428" stroke="#3b2f2f" stroke-width="0.6"/><path d="M2,17 L23,17 L23,19 Q23,21 21,21 L4,21 Q2,21 2,19 Z" fill="#f6c340" stroke="#3b2f2f" stroke-width="1"/><circle cx="9" cy="7" r="0.9" fill="#222"/><circle cx="16" cy="7" r="0.9" fill="#222"/></svg>
<svg class="s" style="left:533px;top:520px" width="21" height="24" viewBox="0 0 21 24"><path d="M5,2 L6,12 M8,4 L9,12 M11,1 L11,12 M14,3 L13,12 M16,2 L15,12 M18,5 L17,12" stroke="#f2c53d" stroke-width="2"/><path d="M1.5,10 L19.5,10 L17,22 L4,22 Z" fill="#e8473b" stroke="#3b2f2f" stroke-width="1"/><path d="M4,15 L17,15 L16,21 L5,21 Z" fill="#f07a35"/></svg>
<svg class="s" style="left:557px;top:520px" width="26" height="27" viewBox="0 0 26 27"><path d="M3,24.5 L11,3 Q20,4 24,13 Z" fill="#f6d36a" stroke="#3b2f2f" stroke-width="1"/><path d="M10.5,2.5 Q21,3 25,13 L22.5,14 Q19,6 11.5,5 Z" fill="#c8843f" stroke="#3b2f2f" stroke-width="0.8"/><circle cx="12" cy="11" r="2" fill="#e0553a"/><circle cx="10" cy="18" r="1.8" fill="#e0553a"/><circle cx="17" cy="14" r="1.2" fill="#8bbf50"/></svg>
<svg class="s" style="left:503px;top:559px" width="23" height="26" viewBox="0 0 23 26"><rect x="10" y="0.5" width="3" height="6" fill="#111"/><path d="M1,7 Q1,5 4,5 L19,5 Q22,5 22,7 L22,9 L1,9 Z" fill="#111"/><path d="M2.5,9 L20.5,9 L19,24 Q19,25 17,25 L6,25 Q4,25 4,24 Z" fill="#ec8a6e" stroke="#c8604a" stroke-width="0.6"/><path d="M3,9 L20,9 L19.6,12 L3.4,12 Z" fill="#f6d0c4"/><circle cx="8" cy="19" r="1" fill="#8a3a2a"/><circle cx="13" cy="21" r="1" fill="#8a3a2a"/><circle cx="15" cy="17" r="1" fill="#8a3a2a"/></svg>
<svg class="s" style="left:529px;top:557px" width="25" height="28" viewBox="0 0 25 28"><path d="M3,9 Q1,4 6,4 Q8,0 12,2 Q16,0 18,4 Q22,4 21,9 Z" fill="#fff" stroke="#7a5aa0" stroke-width="1"/><path d="M3.5,9 L20.5,9 L20,25 Q20,26.5 18.5,26.5 L5,26.5 Q3.5,26.5 3.5,25 Z" fill="#f3c22f" stroke="#7a5aa0" stroke-width="1"/><path d="M20.5,12 L23,12 Q24.5,12 24.5,14 L24.5,20 Q24.5,22 23,22 L20.3,22" fill="none" stroke="#7a5aa0" stroke-width="1.3"/><circle cx="9" cy="15" r="0.9" fill="#333"/><circle cx="15" cy="15" r="0.9" fill="#333"/></svg>
<svg class="s" style="left:558px;top:560px" width="21" height="24" viewBox="0 0 21 24"><path d="M2,23 L9,4 M9,23 L18,9" stroke="#8a6a4a" stroke-width="0.9"/><circle cx="8" cy="4" r="2.7" fill="#e3a25a" stroke="#9a6a3a" stroke-width="0.6"/><circle cx="6.5" cy="9" r="2.7" fill="#e3a25a" stroke="#9a6a3a" stroke-width="0.6"/><circle cx="5" cy="14" r="2.7" fill="#e3a25a" stroke="#9a6a3a" stroke-width="0.6"/><path d="M14,9 L20,5 L19,11 Z" fill="#e0605a" stroke="#9a4a3a" stroke-width="0.6"/><circle cx="14" cy="14" r="2.5" fill="#e3a25a" stroke="#9a6a3a" stroke-width="0.6"/><path d="M10,19 L14,16.5" stroke="#7cb850" stroke-width="2.5"/></svg>
<svg class="s" style="left:669px;top:477px" width="25" height="25" viewBox="0 0 25 25"><path d="M5,6 L23,1.5 M6,8 L24,4" stroke="#c8a878" stroke-width="1"/><ellipse cx="12.5" cy="11" rx="11.5" ry="3" fill="#c9a86a" stroke="#8a6a4a" stroke-width="0.6"/><path d="M1,11 L24,11 Q23,21 15,23 L10,23 Q2,21 1,11 Z" fill="#fff" stroke="#8a6a4a" stroke-width="0.8"/><path d="M3,15 Q12,18 22,15" stroke="#c9a86a" stroke-width="1" fill="none"/><rect x="9" y="22.5" width="7" height="1.5" fill="#c9a86a"/></svg>
<svg class="s" style="left:696px;top:481px" width="26" height="21" viewBox="0 0 26 21"><path d="M1,6 Q1,1 13,1 Q25,1 25,6 Q24,16 16,19 L10,19 Q2,16 1,6 Z" fill="#fff" stroke="#8a6a4a" stroke-width="0.8"/><ellipse cx="13" cy="5.5" rx="11" ry="3.5" fill="#f4c878"/><path d="M6,5 Q9,3 12,5 Q15,3 19,5" stroke="#fff" stroke-width="0.8" fill="none"/><rect x="9" y="18.5" width="8" height="2" fill="#c9a070"/></svg>
<svg class="s" style="left:725px;top:483px" width="27" height="19" viewBox="0 0 27 19"><path d="M3,8 Q5,3 9,5 Q12,1 16,4 Q20,2 23,7 Z" fill="#4b9a48"/><circle cx="10" cy="5" r="1.3" fill="#6a2a4a"/><circle cx="17" cy="4" r="1.2" fill="#6a2a4a"/><circle cx="13" cy="6" r="2" fill="#7cc060"/><path d="M1,8 L26,8 Q25,16 16,17.5 L11,17.5 Q2,16 1,8 Z" fill="#b9b3ab" stroke="#6a6a6a" stroke-width="0.8"/></svg>
<svg class="s" style="left:680px;top:514px" width="32" height="30" viewBox="0 0 32 30"><path d="M9,5 Q10,1 12,3 M13,4 Q14,0 15,3" stroke="#e06050" stroke-width="0.8" fill="none"/><path d="M11,7 L16,7 L16,12 L11,12 Z" fill="#e05a48"/><circle cx="6" cy="13" r="2.5" fill="#f0a0a0"/><circle cx="20" cy="13" r="2" fill="#e05a48"/><circle cx="24" cy="13" r="2" fill="#e05a48"/><circle cx="15" cy="13" r="1.5" fill="#7cb850"/><path d="M1,14 L31,14 L30,16 L2,16 Z" fill="#f2b532" stroke="#b8602a" stroke-width="0.8"/><path d="M3,15 L29,15 Q27,23 17,24 L15,24 Q5,23 3,15 Z" fill="#f2b532" stroke="#b8602a" stroke-width="0.8"/><path d="M10,24 L22,24 L24,28 L8,28 Z" fill="#c8602a"/></svg>
<svg class="s" style="left:717px;top:515px" width="29" height="30" viewBox="0 0 29 30"><path d="M7,0 L7,28 M20,4 L24,28" stroke="#7a5a3a" stroke-width="0.9"/><ellipse cx="7" cy="5" rx="6" ry="3" fill="#f3893a" stroke="#c8602a" stroke-width="0.5"/><rect x="1.5" y="10" width="11" height="3" rx="1.5" fill="#3d6b3a"/><ellipse cx="7" cy="17" rx="6" ry="3" fill="#f3893a" stroke="#c8602a" stroke-width="0.5"/><rect x="1.5" y="22" width="11" height="3" rx="1.5" fill="#3d6b3a"/><ellipse cx="19" cy="8" rx="5.5" ry="2.8" fill="#f3893a" stroke="#c8602a" stroke-width="0.5"/><rect x="15" y="13" width="10" height="2.8" rx="1.4" fill="#3d6b3a" transform="rotate(-12 20 14)"/><ellipse cx="21" cy="19" rx="5.5" ry="2.8" fill="#f3893a" stroke="#c8602a" stroke-width="0.5"/><rect x="17" y="23.5" width="10" height="2.8" rx="1.4" fill="#3d6b3a" transform="rotate(-12 22 25)"/></svg>
<svg class="s" style="left:669px;top:557px" width="27" height="28" viewBox="0 0 27 28"><path d="M7,4 L7,1 M10,4 L10,1 M13,4 L13,1" stroke="#ccc" stroke-width="0.8"/><ellipse cx="12" cy="23.5" rx="11" ry="3.5" fill="#d0d0d0" stroke="#555" stroke-width="0.8"/><path d="M2,9 L21,9 L20,19 Q19,22 15,22 L8,22 Q4,22 3,19 Z" fill="#e8e8e8" stroke="#555" stroke-width="0.9"/><ellipse cx="11.5" cy="9" rx="9.5" ry="3.5" fill="#b89878" stroke="#555" stroke-width="0.8"/><path d="M11.5,11 Q8,8.5 9.5,7.5 Q11,7 11.5,8.3 Q12,7 13.5,7.5 Q15,8.5 11.5,11 Z" fill="none" stroke="#e8dcc8" stroke-width="0.6"/><path d="M21,12 Q25,12 24,15 Q23,17 20.5,17" fill="none" stroke="#555" stroke-width="1"/></svg>
<svg class="s" style="left:695px;top:561px" width="28" height="23" viewBox="0 0 28 23"><path d="M2,8 Q1,3 6,2.5 L14,2 Q18,2 19,5 L19,9 Q18,12 13,12 L5,12 Q2,12 2,8 Z" fill="#fff5ee" stroke="#6a3a2a" stroke-width="0.9"/><path d="M1.5,6 Q2,2 7,2 L14,1.5 Q19,2 19,5.5 Q17,8 12,8 L5,8.5 Q1.5,8.5 1.5,6 Z" fill="#e98a6e" stroke="#6a3a2a" stroke-width="0.9"/><path d="M4,5 L15,4" stroke="#f6c0a8" stroke-width="0.8"/><path d="M7,16 Q6,11 12,10.5 L21,10 Q26,10 27,13 L27,17 Q26,21 20,21 L11,21 Q7,21 7,16 Z" fill="#fff5ee" stroke="#6a3a2a" stroke-width="0.9"/><path d="M6.5,14 Q7,10 13,10 L21,9.5 Q27,10 27,13.5 Q25,16 19,16 L10,16.5 Q6.5,16.5 6.5,14 Z" fill="#e98a6e" stroke="#6a3a2a" stroke-width="0.9"/><path d="M10,13 L22,12" stroke="#f6c0a8" stroke-width="0.8"/></svg>
<svg class="s" style="left:721px;top:560px" width="34" height="25" viewBox="0 0 34 25"><path d="M2,19 L24,6 L28,4 Q31,2 33,4 Q34,7 31,8 L11,23 Q7,25 4,23 Z" fill="#eec27a" stroke="#b07a3a" stroke-width="0.8"/><path d="M14,17 Q19,11 26,8 M16,19 Q21,14 27,11" stroke="#f8dc78" stroke-width="1.6" fill="none"/><circle cx="13" cy="3.5" r="2.6" fill="#e04848"/><circle cx="18" cy="6" r="2.2" fill="#e04848"/><path d="M4,11 L3,13" stroke="#5aa040" stroke-width="2"/><path d="M3,14 Q3,8 10,7 Q17,6 19,10 Q20,15 12,17 Q4,18 3,14 Z" fill="#c0602a" stroke="#5a2a18" stroke-width="0.8"/><path d="M4,15 Q10,18 18,13" stroke="#3a2018" stroke-width="1.4" fill="none"/></svg>
<svg class="s" style="left:980px;top:24px" width="28" height="23" viewBox="0 0 28 23"><circle cx="19" cy="9" r="7.5" fill="#b5d8a8" stroke="#6a7a78" stroke-width="0.6"/><path d="M15,10 Q19,5 24,10 L24,12 Q19,9 15,13 Z" fill="#d9a060"/><ellipse cx="19" cy="12" rx="3.5" ry="2" fill="#f5efd8"/><circle cx="10" cy="14" r="8" fill="#fff" stroke="#6a7a78" stroke-width="0.6"/><circle cx="11" cy="14.5" r="7" fill="#b5d8a8"/><circle cx="8" cy="15" r="0.6" fill="#444"/><circle cx="13" cy="15" r="0.6" fill="#444"/></svg>
<svg class="s" style="left:1012px;top:24px" width="27" height="24" viewBox="0 0 27 24"><path d="M4,7 Q10,0 16,7 Z" fill="#d4b878"/><rect x="2" y="7" width="16" height="3" rx="1" fill="#b5d8a8" stroke="#6a7a78" stroke-width="0.6"/><path d="M2.5,10 L17.5,10 L18,20 Q18,22 16,22 L4,22 Q2,22 2,20 Z" fill="#f6f0da" stroke="#6a7a78" stroke-width="0.6"/><path d="M10,12 L13,15.5 L10,19 L7,15.5 Z" fill="#b5d8a8" stroke="#6a7a78" stroke-width="0.5"/><path d="M20,23 L25,8" stroke="#c8a048" stroke-width="0.8"/><ellipse cx="22" cy="17" rx="1.5" ry="2.5" fill="#d8b458"/><ellipse cx="23.5" cy="12" rx="1.3" ry="2.2" fill="#d8b458"/></svg>
<svg class="s" style="left:1040px;top:24px" width="31" height="24" viewBox="0 0 31 24"><ellipse cx="15" cy="17" rx="14" ry="4" fill="#b5d8a8" stroke="#6a7a78" stroke-width="0.6"/><path d="M20,19 L29,23.5" stroke="#6a7a78" stroke-width="0.6"/><path d="M4,15 Q2,9 6,7 Q8,3 12,5 Q16,3 18,7 Q21,10 19,15 Q12,18 4,15 Z" fill="#f4edd6" stroke="#6a7a78" stroke-width="0.6"/><path d="M17,13 Q16,7 20,5 Q23,3 26,5 Q30,8 28,13 Q23,16 17,13 Z" fill="#dcc084" stroke="#6a7a78" stroke-width="0.6"/></svg>
<svg class="s" style="left:1072px;top:22px" width="27" height="26" viewBox="0 0 27 26"><path d="M8,6 Q9,2 11,3" stroke="#6a7a78" stroke-width="0.6" fill="none"/><ellipse cx="8.5" cy="14" rx="7" ry="8.5" fill="#fff" stroke="#6a7a78" stroke-width="0.6"/><path d="M4,8 Q3,14 5,20 M8.5,6 L8.5,22 M13,8 Q14,14 12,20" stroke="#6f9f6a" stroke-width="1.5" fill="none"/><path d="M6,8 Q5.5,14 7,20 M11,7 Q11.5,14 10.5,21" stroke="#c4dcb8" stroke-width="1.2" fill="none"/><circle cx="19" cy="16" r="6.5" fill="#f4edd6" stroke="#6a7a78" stroke-width="0.6"/><path d="M13,20 Q15,17 17,21 Q15,23 13,20 Z" fill="#c8a860"/><path d="M7,25 L11,21" stroke="#6a7a78" stroke-width="0.5"/></svg>
<svg class="s" style="left:1100px;top:24px" width="26" height="24" viewBox="0 0 26 24"><circle cx="8" cy="9" r="4" fill="#f4edd6" stroke="#6a7a78" stroke-width="0.5"/><circle cx="18" cy="9" r="4" fill="#f4edd6" stroke="#6a7a78" stroke-width="0.5"/><circle cx="13" cy="6" r="4" fill="#f4edd6" stroke="#6a7a78" stroke-width="0.5"/><path d="M1.5,11 L24.5,11 Q24,20 15,22 L11,22 Q2,20 1.5,11 Z" fill="#b5d8a8" stroke="#6a7a78" stroke-width="0.6"/><path d="M1.5,11 L8,11 Q9,19 13,22 L11,22 Q2,20 1.5,11 Z" fill="#fff"/><circle cx="13" cy="16" r="3.2" fill="#d4bc6c" stroke="#6a7a78" stroke-width="0.4"/><rect x="10" y="21.5" width="6" height="1.5" fill="#c8b070"/></svg>
<svg class="s" style="left:1128px;top:24px" width="31" height="24" viewBox="0 0 31 24"><path d="M17,6 Q20,2 23,5 Q27,6 28,12 Q29,18 22,19 Q16,18 17,12 Z" fill="#f4edd6" stroke="#6a7a78" stroke-width="0.6"/><path d="M18,9 L23,4 L27,10" fill="#fff" stroke="#6a7a78" stroke-width="0.5"/><path d="M2,14 Q2,8 6,7 L10,2 L14,7 Q18,8 18,14 Q18,22 10,23 Q2,22 2,14 Z" fill="#b5d8a8" stroke="#6a7a78" stroke-width="0.6"/><path d="M3,10 L6,6 L10,11 L14,6 L17,10" fill="#fff" stroke="#6a7a78" stroke-width="0.5"/><circle cx="7.5" cy="16" r="0.6" fill="#444"/><circle cx="12.5" cy="16" r="0.6" fill="#444"/><circle cx="5.5" cy="18" r="0.9" fill="#f0b0a0"/><circle cx="14.5" cy="18" r="0.9" fill="#f0b0a0"/></svg>
</body></html>
